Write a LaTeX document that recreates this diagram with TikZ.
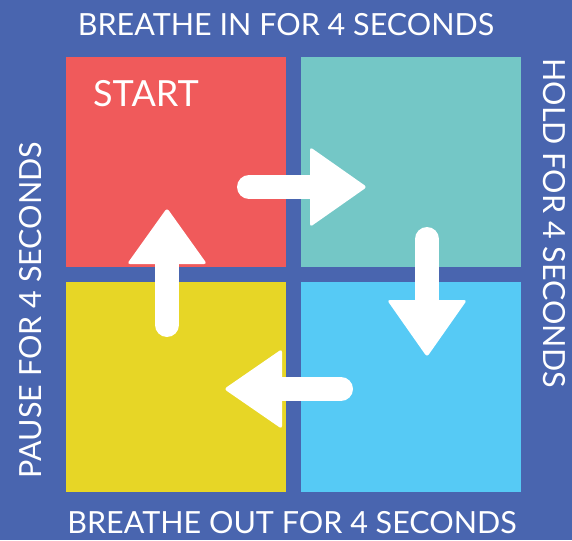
\documentclass[tikz,border=0pt]{standalone}
\usepackage{fontspec}
\setmainfont{Lato}
\definecolor{brbg}{RGB}{73, 101, 175}
\definecolor{brred}{RGB}{240, 90, 91}
\definecolor{brteal}{RGB}{116, 199, 198}
\definecolor{bryellow}{RGB}{231, 214, 38}
\definecolor{brsky}{RGB}{86, 202, 245}
\usetikzlibrary{calc}

\begin{document}
\begin{tikzpicture}[x=1pt, y=-1pt,
    tile/.style={rectangle, inner sep=0pt, minimum width=220pt, minimum height=210pt},
    label/.style={text=white, font=\fontsize{30.5}{30.5}\selectfont, inner sep=0pt, anchor=base},
    shaft/.style={white, line width=24pt, line cap=round},
    headtip/.style={fill=white, rounded corners=3pt}
]

% === Fondo ===
\fill[brbg] (0,0) rectangle (572,540);
\useasboundingbox (0,0) rectangle (572,540);

% === Cuadrantes ===
\node[tile, fill=brred] (inq) at (176,162) {};
\node[tile, fill=brteal] (holdq) at (411,162) {};
\node[tile, fill=brsky] (outq) at (411,387) {};
\node[tile, fill=bryellow] (pauseq) at (176,387) {};

\node[text=white, font=\fontsize{36}{36}\selectfont, inner sep=0pt, anchor=base west] (start) at (93,107) {START};

% === Textos laterales ===
\node[label] (intxt) at (286,36) {BREATHE IN FOR 4 SECONDS};
\node[label, rotate=-90] (holdtxt) at (543,223) {HOLD FOR 4 SECONDS};
\node[label] (outtxt) at (292,533) {BREATHE OUT FOR 4 SECONDS};
\node[label, rotate=90] (pausetxt) at (41,310) {PAUSE FOR 4 SECONDS};

% === Flechas ===
\coordinate (a1s) at (249,187); \coordinate (a1b) at (310,187); \coordinate (a1t) at (367,187);
\coordinate (a2s) at (427,239); \coordinate (a2b) at (427,300); \coordinate (a2t) at (427,357);
\coordinate (a3s) at (341,389); \coordinate (a3b) at (282,389); \coordinate (a3t) at (224,389);
\coordinate (a4s) at (167,325); \coordinate (a4b) at (167,264); \coordinate (a4t) at (167,208);

\foreach \a in {a1, a2, a3, a4} {
    \draw[shaft] (\a s) -- (\a b);
    \fill[headtip] ($(\a b)!40pt!90:(\a t)$) -- (\a t) -- ($(\a b)!40pt!-90:(\a t)$) -- cycle;
}

\end{tikzpicture}
\end{document}
